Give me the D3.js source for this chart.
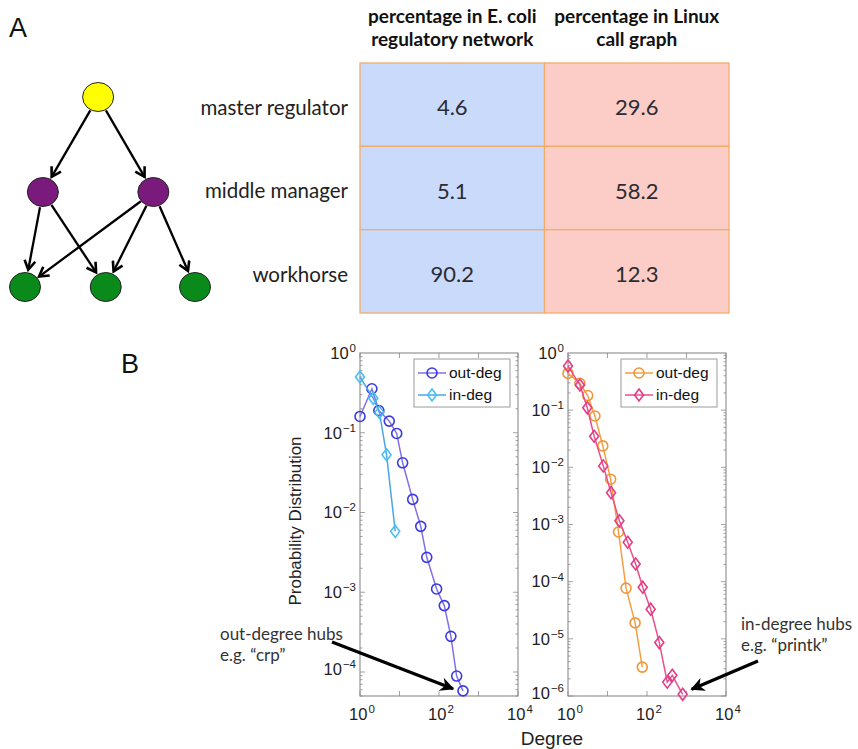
<!DOCTYPE html>
<html>
<head>
<meta charset="utf-8">
<script src="https://cdn.jsdelivr.net/npm/d3@7"></script>
<style>
  body { margin: 0; background: #fff; }
  svg { display: block; }
</style>
</head>
<body>
<div class="chart"></div>
<script>
// ---- panel A data ----
const roles = ['master regulator', 'middle manager', 'workhorse']
const colHeaders = [['percentage in E. coli', 'regulatory network'], ['percentage in Linux', 'call graph']]
const ecoliPct = [4.6, 5.1, 90.2]
const linuxPct = [29.6, 58.2, 12.3]

// nodes of the toy hierarchy: role + column slot (0..4)
const nodes = [
  {id: 'm', role: 0, slot: 1.72},
  {id: 'a', role: 1, slot: 0.42},
  {id: 'b', role: 1, slot: 3.02},
  {id: 'w1', role: 2, slot: 0},
  {id: 'w2', role: 2, slot: 1.9},
  {id: 'w3', role: 2, slot: 4}
]
const edges = [['m','a'],['m','b'],['a','w1'],['a','w2'],['b','w1'],['b','w2'],['b','w3']]
const roleColors = ['#ffff00', '#7a1a7c', '#0b8a1c']

// ---- panel B data ----
const ecoliOutDeg = [1, 2, 3, 5.5, 8.5, 12, 21.6, 34.5, 49, 87, 136, 200, 280, 405]
const ecoliOutP   = [0.16, 0.356, 0.19, 0.14, 0.098, 0.042, 0.0146, 0.0067, 0.00274, 0.0011, 0.00068, 0.00028, 8.9e-5, 5.8e-5]
const ecoliInDeg  = [1, 2.17, 3.1, 4.7, 7.8]
const ecoliInP    = [0.50, 0.27, 0.18, 0.053, 0.0058]

const linuxOutDeg = [1, 2, 3.15, 4.8, 7.6, 12, 19, 29.5, 50, 76]
const linuxOutP   = [0.44, 0.295, 0.18, 0.079, 0.0237, 0.0062, 0.00074, 7.7e-5, 1.9e-5, 3.2e-6]
const linuxInDeg  = [1, 2, 3.08, 4.6, 7.8, 12.3, 20, 32.5, 51.6, 78, 124, 205, 326, 437, 800]
const linuxInP    = [0.59, 0.276, 0.11, 0.035, 0.0106, 0.0036, 0.00116, 0.00049, 0.000204, 8e-5, 3.3e-5, 8.6e-6, 1.75e-6, 2.3e-6, 1.07e-6]

const xTicks = [1, 10, 100, 1000, 10000]
const xLabelExp = [0, 2, 4]

const w = 858, h = 749
const svg = d3.select('.chart').append('svg').attr('width', w).attr('height', h)

const calibri = 'Lato, "Open Sans", sans-serif'
const helv = '"Liberation Sans", Arial, sans-serif'

// ================= panel A =================
svg.append('text').text('A').attr('x', 9).attr('y', 37)
   .attr('font-family', helv).attr('font-size', 27).attr('fill', '#111')

const defs = svg.append('defs')
defs.append('marker').attr('id', 'chev')
    .attr('viewBox', '0 0 12 12').attr('refX', 10).attr('refY', 6)
    .attr('markerWidth', 13).attr('markerHeight', 13)
    .attr('markerUnits', 'userSpaceOnUse').attr('orient', 'auto')
  .append('path').attr('d', 'M1.5,1 L10,6 L1.5,11')
    .attr('fill', 'none').attr('stroke', '#000').attr('stroke-width', 2.4)
defs.append('marker').attr('id', 'bigarrow')
    .attr('viewBox', '0 0 10 10').attr('refX', 9).attr('refY', 5)
    .attr('markerWidth', 16).attr('markerHeight', 14)
    .attr('markerUnits', 'userSpaceOnUse').attr('orient', 'auto')
  .append('path').attr('d', 'M0,0 L10,5 L0,10 L3,5 Z').attr('fill', '#000')

const slotX = d3.scaleLinear().domain([0, 4]).range([25, 195])
const nodeY = d3.scalePoint().domain([0, 1, 2]).range([97, 287])
const nodeR = 15.5
const nodeById = {}
nodes.forEach(n => { n.x = slotX(n.slot); n.y = nodeY(n.role); nodeById[n.id] = n })

svg.append('g').selectAll('line')
   .data(edges).enter().append('line')
   .each(function(e) {
     const s = nodeById[e[0]], t = nodeById[e[1]]
     const dx = t.x - s.x, dy = t.y - s.y, L = Math.hypot(dx, dy)
     d3.select(this)
       .attr('x1', s.x + dx / L * nodeR).attr('y1', s.y + dy / L * nodeR)
       .attr('x2', t.x - dx / L * (nodeR + 2)).attr('y2', t.y - dy / L * (nodeR + 2))
   })
   .attr('stroke', '#000').attr('stroke-width', 2.3)
   .attr('marker-end', 'url(#chev)')

svg.append('g').selectAll('ellipse')
   .data(nodes).enter().append('ellipse')
   .attr('cx', d => d.x).attr('cy', d => d.y)
   .attr('rx', nodeR).attr('ry', nodeR - 1)
   .attr('fill', d => roleColors[d.role])
   .attr('stroke', '#222').attr('stroke-width', 1)

// table
const rowY = d3.scaleBand().domain(roles).range([63, 313])
const colX = d3.scaleBand().domain([0, 1]).range([360, 729])
const cellFill = ['#c9dafa', '#fbcdc6']
const tbl = svg.append('g')
const cols = [ecoliPct, linuxPct]
cols.forEach((vals, ci) => {
  tbl.selectAll('rect.c' + ci)
     .data(vals).enter().append('rect')
     .attr('class', 'c' + ci)
     .attr('x', colX(ci)).attr('y', (d, i) => rowY(roles[i]))
     .attr('width', colX.bandwidth()).attr('height', rowY.bandwidth())
     .attr('fill', cellFill[ci]).attr('stroke', '#f2ad6a').attr('stroke-width', 1.3)
  tbl.selectAll('text.v' + ci)
     .data(vals).enter().append('text')
     .attr('class', 'v' + ci)
     .attr('x', colX(ci) + colX.bandwidth() / 2)
     .attr('y', (d, i) => rowY(roles[i]) + rowY.bandwidth() / 2 + 3)
     .attr('dy', '0.35em').attr('text-anchor', 'middle')
     .attr('font-family', calibri).attr('font-size', 22).attr('fill', '#2b2b33')
     .text(d => d.toFixed(1))
})
tbl.selectAll('text.role')
   .data(roles).enter().append('text')
   .attr('class', 'role')
   .attr('x', 348).attr('y', d => rowY(d) + rowY.bandwidth() / 2 + 3)
   .attr('dy', '0.35em').attr('text-anchor', 'end')
   .attr('font-family', calibri).attr('font-size', 20.5).attr('fill', '#222')
   .text(d => d)
colHeaders.forEach((lines, ci) => {
  tbl.selectAll('text.h' + ci)
     .data(lines).enter().append('text')
     .attr('class', 'h' + ci)
     .attr('x', colX(ci) + colX.bandwidth() / 2)
     .attr('y', (d, i) => 23 + i * 23)
     .attr('text-anchor', 'middle')
     .attr('font-family', calibri).attr('font-weight', 'bold').attr('font-size', 19)
     .attr('fill', '#111')
     .text(d => d)
})

// ================= panel B =================
svg.append('text').text('B').attr('x', 121).attr('y', 373)
   .attr('font-family', helv).attr('font-size', 27).attr('fill', '#111')

const supTick = (sel, exp) => {
  sel.append('tspan').text('10')
  sel.append('tspan').text(exp < 0 ? '\u2212' + Math.abs(exp) : String(exp))
     .attr('font-size', 11.5).attr('dy', '-0.6em').attr('dx', 1)
}

function logPanel(opt) {
  const x = d3.scaleLog().domain([1, 10000]).range([opt.x0, opt.x1])
  const y = d3.scaleLog().domain([opt.ymin, 1]).range([696, 353])
  const g = svg.append('g')
  const grey = '#8a8a8a'

  // minor + major ticks inside the box
  const yDec = d3.range(0, opt.minExp - 1, -1)
  yDec.forEach(e => {
    for (let k = 1; k < 10; k++) {
      const v = Math.pow(10, e - 1) * k
      if (v < opt.ymin) continue
      const len = k === 1 ? 5 : 2.5
      g.append('line').attr('x1', opt.x0).attr('x2', opt.x0 + len).attr('y1', y(v)).attr('y2', y(v)).attr('stroke', grey).attr('stroke-width', 0.8)
      g.append('line').attr('x1', opt.x1).attr('x2', opt.x1 - len).attr('y1', y(v)).attr('y2', y(v)).attr('stroke', grey).attr('stroke-width', 0.8)
    }
  })
  xTicks.forEach(v => {
    g.append('line').attr('x1', x(v)).attr('x2', x(v)).attr('y1', 696).attr('y2', 691).attr('stroke', grey).attr('stroke-width', 0.8)
    g.append('line').attr('x1', x(v)).attr('x2', x(v)).attr('y1', 353).attr('y2', 358).attr('stroke', grey).attr('stroke-width', 0.8)
  })
  g.append('rect').attr('x', opt.x0).attr('y', 353)
   .attr('width', opt.x1 - opt.x0).attr('height', 343)
   .attr('fill', 'none').attr('stroke', grey).attr('stroke-width', 1.1)

  // tick labels
  d3.range(0, opt.minExp - 1, -1).forEach(e => {
    const t = g.append('text').attr('x', opt.x0 - 4).attr('y', y(Math.pow(10, e)) - (e === opt.minExp ? 3 : 0))
      .attr('dy', '0.35em').attr('text-anchor', 'end')
      .attr('font-family', helv).attr('font-size', 16.5).attr('fill', '#222')
    supTick(t, e)
  })
  xLabelExp.forEach(e => {
    const t = g.append('text').attr('x', x(Math.pow(10, e)) + 2).attr('y', 720)
      .attr('text-anchor', 'middle')
      .attr('font-family', helv).attr('font-size', 16.5).attr('fill', '#222')
    supTick(t, e)
  })

  // series
  opt.series.forEach(s => {
    const pts = s.deg.map((d, i) => [d, s.p[i]])
    g.append('path').datum(pts)
     .attr('d', d3.line().x(d => x(d[0])).y(d => y(d[1])))
     .attr('fill', 'none').attr('stroke', s.line).attr('stroke-width', 1.5)
    drawMarkers(g, pts.map(d => [x(d[0]), y(d[1])]), s)
  })

  // legend
  const lg = g.append('g')
  lg.append('rect').attr('x', opt.lx).attr('y', 359).attr('width', 96).attr('height', 48)
    .attr('fill', '#fff').attr('stroke', '#9a9a9a').attr('stroke-width', 1)
  opt.series.forEach((s, i) => {
    const ly = 373 + i * 22
    lg.append('line').attr('x1', opt.lx + 4).attr('x2', opt.lx + 32).attr('y1', ly).attr('y2', ly)
      .attr('stroke', s.line).attr('stroke-width', 1.5)
    drawMarkers(lg, [[opt.lx + 18, ly]], s)
    lg.append('text').text(s.name).attr('x', opt.lx + 35).attr('y', ly).attr('dy', '0.35em')
      .attr('font-family', helv).attr('font-size', 15.5).attr('fill', '#111')
  })
  return {x, y}
}

function drawMarkers(g, pts, s) {
  if (s.shape === 'circle') {
    g.selectAll(null).data(pts).enter().append('circle')
     .attr('cx', d => d[0]).attr('cy', d => d[1]).attr('r', 5)
     .attr('fill', 'none').attr('stroke', s.mark).attr('stroke-width', 1.6)
  } else {
    g.selectAll(null).data(pts).enter().append('path')
     .attr('d', d => `M${d[0]},${d[1] - 6}L${d[0] + 4.5},${d[1]}L${d[0]},${d[1] + 6}L${d[0] - 4.5},${d[1]}Z`)
     .attr('fill', 'none').attr('stroke', s.mark).attr('stroke-width', 1.6)
  }
}

const left = logPanel({
  x0: 360, x1: 518, ymin: 5e-5, minExp: -4, lx: 414,
  series: [
    {name: 'out-deg', deg: ecoliOutDeg, p: ecoliOutP, line: '#8270e6', mark: '#3a3ae2', shape: 'circle'},
    {name: 'in-deg', deg: ecoliInDeg, p: ecoliInP, line: '#4aa6e8', mark: '#46bff2', shape: 'diamond'}
  ]
})
const right = logPanel({
  x0: 568, x1: 726, ymin: 1e-6, minExp: -6, lx: 621,
  series: [
    {name: 'out-deg', deg: linuxOutDeg, p: linuxOutP, line: '#f2a043', mark: '#f0963a', shape: 'circle'},
    {name: 'in-deg', deg: linuxInDeg, p: linuxInP, line: '#e8508c', mark: '#e23d86', shape: 'diamond'}
  ]
})

svg.append('text').text('Degree').attr('x', 552).attr('y', 745)
   .attr('text-anchor', 'middle').attr('font-family', helv).attr('font-size', 19).attr('fill', '#222')
svg.append('text').text('Probability Distribution')
   .attr('transform', 'translate(301,521) rotate(-90)')
   .attr('text-anchor', 'middle').attr('font-family', helv).attr('font-size', 17).attr('fill', '#222')

// annotations
const annot = [
  {lines: ['out-degree hubs', 'e.g. \u201ccrp\u201d'], tx: 220, ty: 640, from: [332, 642],
   tip: [left.x(ecoliOutDeg[13]) - 10, left.y(ecoliOutP[13]) - 2]},
  {lines: ['in-degree hubs', 'e.g. \u201cprintk\u201d'], tx: 741, ty: 630, from: [758, 661],
   tip: [right.x(linuxInDeg[14]) + 9, right.y(linuxInP[14]) - 5]}
]
annot.forEach(a => {
  svg.append('g').selectAll('text').data(a.lines).enter().append('text')
     .attr('x', a.tx).attr('y', (d, i) => a.ty + i * 21)
     .attr('font-family', calibri).attr('font-size', 17).attr('fill', '#333')
     .text(d => d)
  svg.append('line').attr('x1', a.from[0]).attr('y1', a.from[1])
     .attr('x2', a.tip[0]).attr('y2', a.tip[1])
     .attr('stroke', '#000').attr('stroke-width', 3.2)
     .attr('marker-end', 'url(#bigarrow)')
})
</script>
</body>
</html>
